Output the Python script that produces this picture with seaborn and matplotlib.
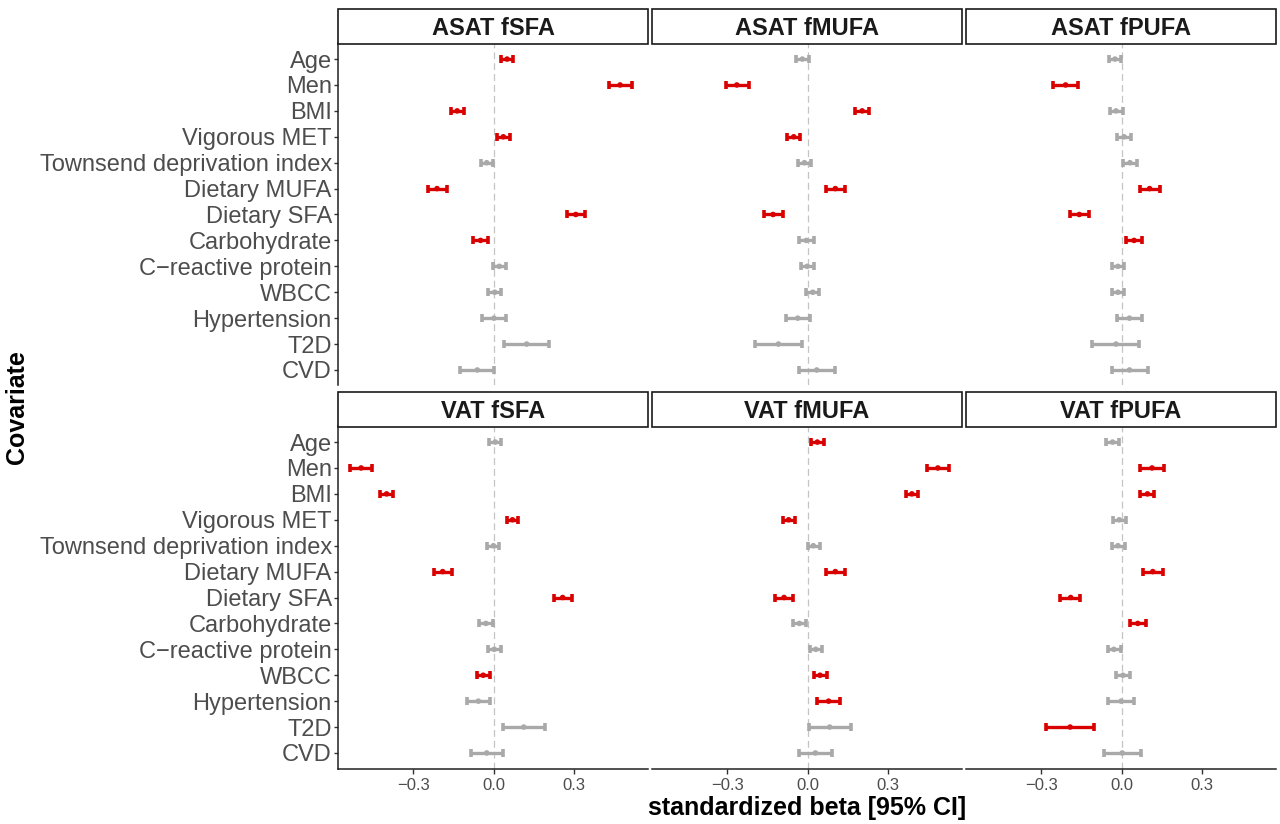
import pandas as pd
import matplotlib
matplotlib.use("Agg")
import matplotlib.pyplot as plt
import seaborn as sns
from matplotlib.patches import Rectangle

covariates = ["Age", "Men", "BMI", "Vigorous MET", "Townsend deprivation index",
              "Dietary MUFA", "Dietary SFA", "Carbohydrate", "C\u2212reactive protein",
              "WBCC", "Hypertension", "T2D", "CVD"]
panels = ["ASAT fSFA", "ASAT fMUFA", "ASAT fPUFA", "VAT fSFA", "VAT fMUFA", "VAT fPUFA"]

# estimates and 95% CI
asat_fsfa_beta = [0.050, 0.471, -0.136, 0.036, -0.026, -0.211, 0.306, -0.049, 0.021, 0.004, 0.001, 0.123, -0.061]
asat_fsfa_lo = [0.026, 0.428, -0.160, 0.014, -0.047, -0.246, 0.272, -0.077, -0.001, -0.020, -0.042, 0.039, -0.126]
asat_fsfa_hi = [0.073, 0.515, -0.111, 0.061, -0.004, -0.175, 0.341, -0.020, 0.045, 0.027, 0.046, 0.208, 0.002]
asat_fsfa_sig = [1, 1, 1, 1, 0, 1, 1, 1, 0, 0, 0, 0, 0]

asat_fmufa_beta = [-0.020, -0.264, 0.203, -0.052, -0.012, 0.103, -0.129, -0.005, -0.002, 0.019, -0.037, -0.109, 0.034]
asat_fmufa_lo = [-0.044, -0.305, 0.178, -0.076, -0.035, 0.067, -0.164, -0.032, -0.025, -0.006, -0.082, -0.195, -0.032]
asat_fmufa_hi = [0.005, -0.219, 0.229, -0.029, 0.012, 0.139, -0.093, 0.024, 0.022, 0.042, 0.007, -0.022, 0.101]
asat_fmufa_sig = [0, 1, 1, 1, 0, 1, 1, 0, 0, 0, 0, 0, 0]

asat_fpufa_beta = [-0.025, -0.209, -0.021, 0.009, 0.031, 0.104, -0.158, 0.046, -0.014, -0.014, 0.029, -0.021, 0.029]
asat_fpufa_lo = [-0.049, -0.254, -0.045, -0.016, 0.005, 0.068, -0.193, 0.017, -0.036, -0.036, -0.017, -0.109, -0.037]
asat_fpufa_hi = [-0.001, -0.163, 0.005, 0.034, 0.057, 0.141, -0.121, 0.076, 0.010, 0.010, 0.076, 0.066, 0.098]
asat_fpufa_sig = [0, 1, 0, 0, 0, 1, 1, 1, 0, 0, 0, 0, 0]

vat_fsfa_beta = [0.006, -0.494, -0.399, 0.070, -0.001, -0.190, 0.257, -0.029, 0.002, -0.039, -0.057, 0.112, -0.026]
vat_fsfa_lo = [-0.016, -0.534, -0.423, 0.049, -0.024, -0.224, 0.225, -0.053, -0.020, -0.062, -0.098, 0.034, -0.085]
vat_fsfa_hi = [0.029, -0.453, -0.376, 0.092, 0.021, -0.155, 0.290, -0.004, 0.026, -0.015, -0.015, 0.190, 0.034]
vat_fsfa_sig = [0, 1, 1, 1, 0, 1, 1, 0, 0, 1, 0, 0, 0]

vat_fmufa_beta = [0.036, 0.485, 0.388, -0.071, 0.021, 0.103, -0.088, -0.031, 0.030, 0.046, 0.078, 0.082, 0.029]
vat_fmufa_lo = [0.012, 0.445, 0.366, -0.093, 0.000, 0.070, -0.121, -0.056, 0.009, 0.022, 0.036, 0.005, -0.032]
vat_fmufa_hi = [0.060, 0.526, 0.410, -0.047, 0.045, 0.138, -0.055, -0.006, 0.053, 0.071, 0.121, 0.160, 0.090]
vat_fmufa_sig = [1, 1, 1, 1, 0, 1, 1, 0, 0, 1, 1, 0, 0]

vat_fpufa_beta = [-0.034, 0.113, 0.096, -0.009, -0.014, 0.116, -0.190, 0.060, -0.029, 0.005, -0.002, -0.192, 0.002]
vat_fpufa_lo = [-0.058, 0.068, 0.070, -0.032, -0.037, 0.078, -0.228, 0.030, -0.052, -0.020, -0.051, -0.281, -0.066]
vat_fpufa_hi = [-0.009, 0.158, 0.122, 0.016, 0.011, 0.153, -0.154, 0.091, -0.004, 0.030, 0.046, -0.102, 0.072]
vat_fpufa_sig = [0, 1, 1, 0, 0, 1, 1, 1, 0, 0, 0, 1, 0]

betas = [asat_fsfa_beta, asat_fmufa_beta, asat_fpufa_beta, vat_fsfa_beta, vat_fmufa_beta, vat_fpufa_beta]
los = [asat_fsfa_lo, asat_fmufa_lo, asat_fpufa_lo, vat_fsfa_lo, vat_fmufa_lo, vat_fpufa_lo]
his = [asat_fsfa_hi, asat_fmufa_hi, asat_fpufa_hi, vat_fsfa_hi, vat_fmufa_hi, vat_fpufa_hi]
sigs = [asat_fsfa_sig, asat_fmufa_sig, asat_fpufa_sig, vat_fsfa_sig, vat_fmufa_sig, vat_fpufa_sig]

rows = []
for panel, b, l, h, s in zip(panels, betas, los, his, sigs):
    depot, fa = panel.split()
    for i, cov in enumerate(covariates):
        rows.append({"depot": depot, "fa": fa, "panel": panel, "covariate": cov, "pos": i,
                     "beta": b[i], "lo": l[i], "hi": h[i], "group": "sig" if s[i] else "ns"})
df = pd.DataFrame(rows)

RED = "#D90000"
GREY = "#A9A9A9"
pal = {"sig": RED, "ns": GREY}

sns.set_theme(style="white")
plt.rcParams["font.family"] = ["Liberation Sans", "DejaVu Sans"]


def forest(data, **kws):
    ax = plt.gca()
    ax.axvline(0, color="#C4C4C4", lw=0.9, dashes=(5.5, 3.2), zorder=1)
    for grp, sub in data.groupby("group"):
        ax.errorbar(sub["beta"], sub["pos"],
                    xerr=[sub["beta"] - sub["lo"], sub["hi"] - sub["beta"]],
                    fmt="none", ecolor=pal[grp], elinewidth=2.4, capsize=3.0,
                    capthick=2.6, zorder=3)
    sns.scatterplot(data=data, x="beta", y="pos", hue="group", palette=pal,
                    legend=False, s=16, linewidth=0, ax=ax, zorder=4)


g = sns.FacetGrid(df, row="depot", col="fa", row_order=["ASAT", "VAT"],
                  col_order=["fSFA", "fMUFA", "fPUFA"], sharex=True, sharey=True,
                  height=4, aspect=1, despine=False)
g.map_dataframe(forest)
g.set_titles("")
g.set_axis_labels("", "")

fig = g.figure
fig.set_size_inches(12.8, 8.24)
W, H = 1280, 824
col_left = [338, 652, 966]
row_top = [43.5, 426.5]
pw, ph = 310, 342

for r in range(2):
    for c in range(3):
        ax = g.axes[r, c]
        ax.set_position([col_left[c] / W, 1 - (row_top[r] + ph) / H, pw / W, ph / H])
        ax.set_xlim(-0.58, 0.575)
        ax.set_ylim(12.6, -0.6)
        ax.set_xticks([-0.3, 0.0, 0.3])
        ax.set_xticklabels(["\u22120.3", "0.0", "0.3"])
        ax.set_yticks(range(len(covariates)))
        ax.set_yticklabels(covariates)
        ax.set_xlabel("")
        ax.set_ylabel("")
        for sp in ["top", "right", "left", "bottom"]:
            ax.spines[sp].set_visible(False)
        if c == 0:
            ax.spines["left"].set_visible(True)
        if r == 1:
            ax.spines["bottom"].set_visible(True)
        for sp in ["left", "bottom"]:
            ax.spines[sp].set_color("#222222")
            ax.spines[sp].set_linewidth(1.1)
        ax.tick_params(axis="y", left=(c == 0), labelleft=(c == 0), length=3, width=1,
                       color="#333333", pad=1.5, labelsize=17, labelcolor="#4D4D4D")
        ax.tick_params(axis="x", bottom=(r == 1), labelbottom=(r == 1), length=3.5, width=1,
                       color="#333333", pad=3, labelsize=12, labelcolor="#4D4D4D")
        # facet strip
        sh = 35 / ph
        ax.add_patch(Rectangle((0, 1), 1, sh, transform=ax.transAxes, facecolor="white",
                               edgecolor="#1A1A1A", lw=1.2, clip_on=False, zorder=5))
        ax.text(0.5, 1 + sh / 2, panels[r * 3 + c], transform=ax.transAxes, ha="center",
                va="center_baseline", fontsize=17, fontweight="bold", color="#1A1A1A", zorder=6)

fig.text(807 / W, 1 - 808 / H, "standardized beta [95% CI]", ha="center", va="center",
         fontsize=18, fontweight="bold", color="black")
fig.text(17 / W, 1 - 407 / H, "Covariate", ha="center", va="center", rotation=90,
         fontsize=18, fontweight="bold", color="black")

fig.savefig("out.png", dpi=100, facecolor="white")
